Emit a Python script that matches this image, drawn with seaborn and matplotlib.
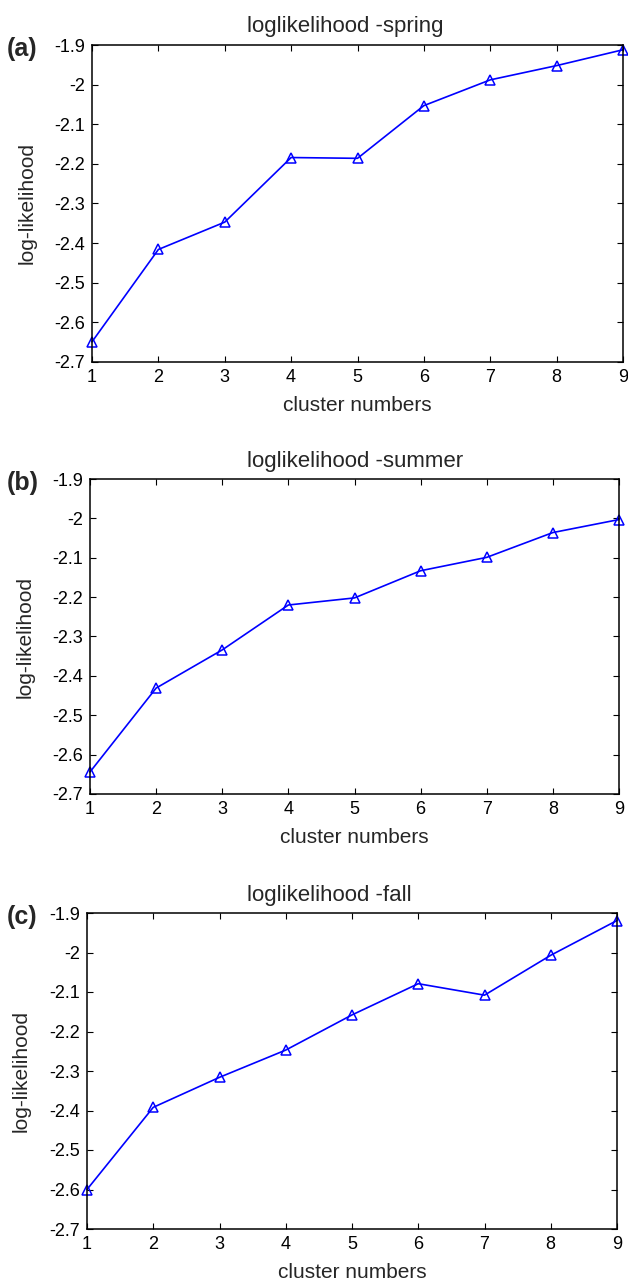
import numpy as np
import pandas as pd
import matplotlib
matplotlib.use("Agg")
import matplotlib.pyplot as plt
import seaborn as sns

clusters = [1, 2, 3, 4, 5, 6, 7, 8, 9]
spring = [-2.649, -2.416, -2.347, -2.184, -2.186, -2.053, -1.988, -1.952, -1.912]
summer = [-2.644, -2.431, -2.334, -2.220, -2.202, -2.133, -2.099, -2.036, -2.003]
fall = [-2.600, -2.392, -2.316, -2.247, -2.158, -2.079, -2.108, -2.007, -1.919]
titles = ["loglikelihood -spring", "loglikelihood -summer", "loglikelihood -fall"]
panel_labels = ["(a)", "(b)", "(c)"]
yticks = [-2.7, -2.6, -2.5, -2.4, -2.3, -2.2, -2.1, -2.0, -1.9]
ytick_labels = ["-2.7", "-2.6", "-2.5", "-2.4", "-2.3", "-2.2", "-2.1", "-2", "-1.9"]

sns.set_style("ticks")
plt.rcParams["font.family"] = ["Liberation Sans", "DejaVu Sans"]

W, H = 628, 1288
fig = plt.figure(figsize=(W / 100, H / 100), dpi=100)
# pixel boxes: left, right, top, bottom
boxes = [
    (92, 623, 45, 362),
    (90, 619, 479, 794),
    (87, 617, 913, 1229),
]
title_left_px = 247
series = [spring, summer, fall]

for box, vals, title, lab in zip(boxes, series, titles, panel_labels):
    l, r, t, b = box
    ax = fig.add_axes([l / W, 1 - b / H, (r - l) / W, (b - t) / H])
    df = pd.DataFrame({"cluster": clusters, "ll": vals})
    sns.lineplot(data=df, x="cluster", y="ll", ax=ax, color="#0000ff",
                 linewidth=1.2, marker="^", markersize=7,
                 markerfacecolor="none", markeredgecolor="#0000ff",
                 markeredgewidth=1.1, clip_on=False)
    ax.set_xlim(1, 9)
    ax.set_ylim(-2.7, -1.9)
    ax.set_xticks(clusters)
    ax.set_xticklabels([str(c) for c in clusters])
    ax.set_yticks(yticks)
    ax.set_yticklabels(ytick_labels)
    ax.tick_params(direction="in", length=4, width=0.8, top=True, right=True,
                   labelsize=13, colors="black", pad=5)
    for s in ax.spines.values():
        s.set_linewidth(1.1)
        s.set_color("black")
    ax.set_title(title, fontsize=16, pad=9,
                 x=(title_left_px - l) / (r - l), ha="left")
    ax.set_xlabel("cluster numbers", fontsize=15, labelpad=7)
    ax.set_ylabel("log-likelihood", fontsize=15, labelpad=13)
    fig.text(7 / W, 1 - (t + 4) / H, lab, fontsize=18,
             fontweight="bold", ha="left", va="center")

fig.savefig("out.png", dpi=100)
